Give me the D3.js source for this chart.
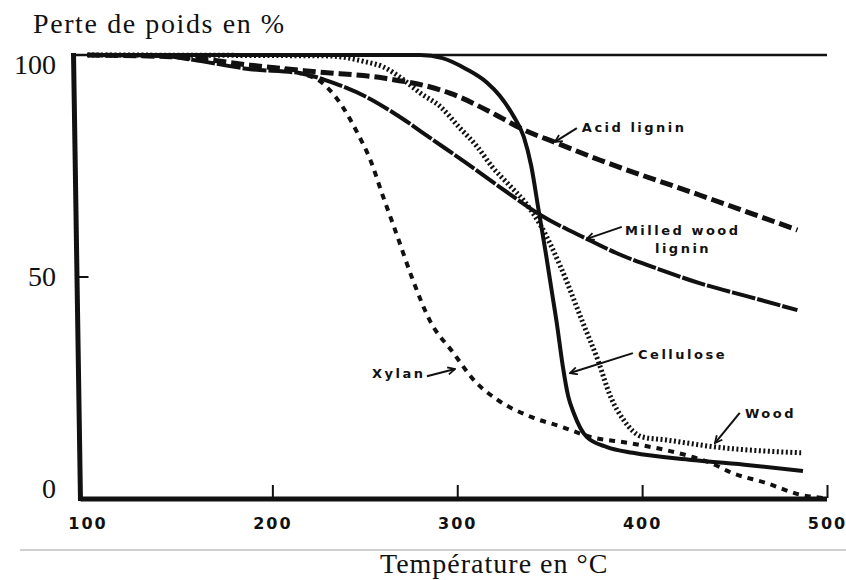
<!DOCTYPE html>
<html>
<head>
<meta charset="utf-8">
<script src="https://cdn.jsdelivr.net/npm/d3@7"></script>
<style>
  body { margin: 0; background: #fff; }
  .serif { font-family: "Liberation Serif", "Times New Roman", serif; fill: #111; }
  .bold { font-family: "DejaVu Sans", Verdana, sans-serif; font-weight: bold; fill: #111; }
</style>
</head>
<body>
<div id="chart"></div>
<script>
// temperature (°C) / remaining weight (%)
const celluloseT = [100, 280, 292, 305, 316, 323, 330, 336, 340, 344, 348, 351, 354, 357, 360, 363, 370, 381, 395, 427, 458, 487];
const celluloseW = [100, 100, 99.3, 96.8, 93.8, 90.8, 86.5, 81.5, 75, 65, 55, 47, 39, 30, 23, 19.2, 13.8, 11.5, 10.2, 8.6, 7.4, 6.1];

const woodT = [100, 230, 250, 260, 269, 280, 291, 301, 311, 319, 328, 337, 345, 356, 368, 376, 383, 390, 400, 413, 440, 486];
const woodW = [100, 99.8, 98.5, 97.3, 95, 91.4, 88.3, 83.7, 79.2, 74.7, 70.7, 66.6, 61.6, 52.1, 39.5, 31.2, 22.8, 17.6, 13.8, 13.1, 11.5, 10.2];

const acidT = [100, 145, 157, 188, 224, 260, 296, 323, 334, 354, 377, 431, 484];
const acidW = [100, 99.6, 99.3, 97.7, 96.2, 94.8, 91.4, 86, 83.5, 80.1, 76.3, 68.4, 60.5];

const milledT = [100, 140, 157, 188, 215, 233, 251, 269, 287, 305, 323, 345, 370, 386, 410, 431, 458, 484];
const milledW = [100, 99.8, 98.9, 96.8, 95.9, 93.7, 90.5, 86, 80.8, 75.6, 70.2, 63.9, 58.5, 55.3, 51.5, 48.5, 45.4, 42.4];

const xylanT = [200, 215, 227, 238, 246, 253, 260, 267, 276, 285, 298, 309, 322, 340, 357, 372, 393, 419, 437, 449, 467, 486, 498];
const xylanW = [97.2, 95.9, 93.7, 88.3, 82.4, 76.3, 67.9, 59.8, 49.2, 40.2, 32.7, 26.6, 22.1, 18.3, 16, 13.8, 12.4, 10.2, 7.9, 5.6, 3.4, 0.7, 0];

const xTicks = [100, 200, 300, 400, 500];
const yTicks = [0, 50, 100];

const W = 846, H = 580;
const svg = d3.select("#chart").append("svg")
  .attr("width", W).attr("height", H);

const x = d3.scaleLinear().domain([100, 500]).range([87.5, 827]);
const y = d3.scaleLinear().domain([0, 100]).range([498, 55]);
// the typed y labels sit a little off the drawn scale in the original
const yLab = d3.scaleLinear().domain([0, 100]).range([497, 73]);

const zip = (ts, ws) => ts.map((t, i) => ({ t: t, w: ws[i] }));

const series = [
  { name: "cellulose", data: zip(celluloseT, celluloseW), width: 4, dash: null },
  { name: "wood", data: zip(woodT, woodW), width: 5, dash: "2,2.5" },
  { name: "acid", data: zip(acidT, acidW), width: 5, dash: "13,5" },
  { name: "milled", data: zip(milledT, milledW), width: 4, dash: "24,2" },
  { name: "xylan", data: zip(xylanT, xylanW), width: 4, dash: "6,6" }
];

// frame
const leftTop = x(100) - 14, leftBot = x(100) - 7;
svg.append("line")
  .attr("x1", leftTop).attr("y1", y(100) - 2)
  .attr("x2", leftBot).attr("y2", y(0) + 3)
  .attr("stroke", "#111").attr("stroke-width", 5);
svg.append("line")
  .attr("x1", leftTop).attr("y1", y(100))
  .attr("x2", x(500)).attr("y2", y(100))
  .attr("stroke", "#111").attr("stroke-width", 2.5);
svg.append("line")
  .attr("x1", leftBot).attr("y1", y(0) + 1)
  .attr("x2", x(500)).attr("y2", y(0) + 1)
  .attr("stroke", "#111").attr("stroke-width", 5);

// x axis, ticks pointing up
const xAxis = svg.append("g")
  .attr("transform", "translate(0," + y(0) + ")")
  .call(d3.axisBottom(x).tickValues(xTicks).tickSize(-13).tickSizeOuter(0).tickPadding(20));
xAxis.select(".domain").remove();
xAxis.selectAll(".tick line").attr("stroke", "#111").attr("stroke-width", 2)
  .filter(d => d === 100).remove();
xAxis.selectAll(".tick text")
  .attr("class", "bold")
  .style("font-size", "16px")
  .style("letter-spacing", "2px");

// y labels
const yAxis = svg.append("g")
  .attr("transform", "translate(56,0)")
  .call(d3.axisLeft(yLab).tickValues(yTicks).tickSize(0).tickPadding(0));
yAxis.select(".domain").remove();
yAxis.selectAll(".tick text")
  .attr("class", "serif")
  .attr("dy", 0)
  .style("font-size", "28px");

// the single inner tick at 50
const yTickG = svg.append("g")
  .attr("transform", "translate(" + (x(100) - 9) + ",0)")
  .call(d3.axisRight(y).tickValues([50]).tickSize(10).tickFormat(""));
yTickG.select(".domain").remove();
yTickG.selectAll("line").attr("stroke", "#111").attr("stroke-width", 2);

// curves
const line = d3.line()
  .x(d => x(d.t))
  .y(d => y(d.w))
  .curve(d3.curveMonotoneX);

svg.append("g").selectAll("path")
  .data(series)
  .enter().append("path")
  .attr("d", d => line(d.data))
  .attr("fill", "none")
  .attr("stroke", "#111")
  .attr("stroke-width", d => d.width)
  .attr("stroke-dasharray", d => d.dash);

// annotations, placed in data units
svg.append("defs").append("marker")
  .attr("id", "arr")
  .attr("viewBox", "0 0 10 10")
  .attr("refX", 9).attr("refY", 5)
  .attr("markerWidth", 9).attr("markerHeight", 9)
  .attr("markerUnits", "userSpaceOnUse")
  .attr("orient", "auto")
  .append("path")
  .attr("d", "M1,1 L9,5 L1,9")
  .attr("fill", "none")
  .attr("stroke", "#111")
  .attr("stroke-width", 2);

const notes = [
  { lines: ["Acid lignin"], at: [367.4, 82.6], from: [364.7, 83.5], to: [352.8, 80.4] },
  { lines: ["Milled wood", "lignin"], at: [390.7, 59.4], from: [389, 61.2], to: [370.1, 58.5] },
  { lines: ["Cellulose"], at: [397.8, 31.4], from: [395, 32.7], to: [361, 28.2] },
  { lines: ["Xylan"], at: [253.9, 27.1], from: [283.6, 27.5], to: [298.8, 29.1] },
  { lines: ["Wood"], at: [455.6, 18.1], from: [452.8, 19.2], to: [439.4, 12.4] }
];

const note = svg.append("g").selectAll("g").data(notes).enter().append("g");
note.append("line")
  .attr("x1", d => x(d.from[0])).attr("y1", d => y(d.from[1]))
  .attr("x2", d => x(d.to[0])).attr("y2", d => y(d.to[1]))
  .attr("stroke", "#111").attr("stroke-width", 2)
  .attr("marker-end", "url(#arr)");
note.each(function (d) {
  const g = d3.select(this);
  d.lines.forEach((s, i) => {
    g.append("text")
      .attr("class", "bold")
      .attr("x", x(d.at[0]) + i * 30)
      .attr("y", y(d.at[1]) + i * 18)
      .style("font-size", "13px")
      .style("letter-spacing", "2.5px")
      .text(s);
  });
});

// titles
svg.append("text")
  .attr("class", "serif")
  .attr("x", 33).attr("y", 33)
  .style("font-size", "28px")
  .style("letter-spacing", "1.6px")
  .text("Perte de poids en %");

svg.append("line")
  .attr("x1", 20).attr("x2", W)
  .attr("y1", 550).attr("y2", 550)
  .attr("stroke", "#d0d0d0").attr("stroke-width", 2);

svg.append("text")
  .attr("class", "serif")
  .attr("x", 380).attr("y", 573)
  .style("font-size", "28px")
  .style("letter-spacing", "1px")
  .text("Température en °C");
</script>
</body>
</html>
